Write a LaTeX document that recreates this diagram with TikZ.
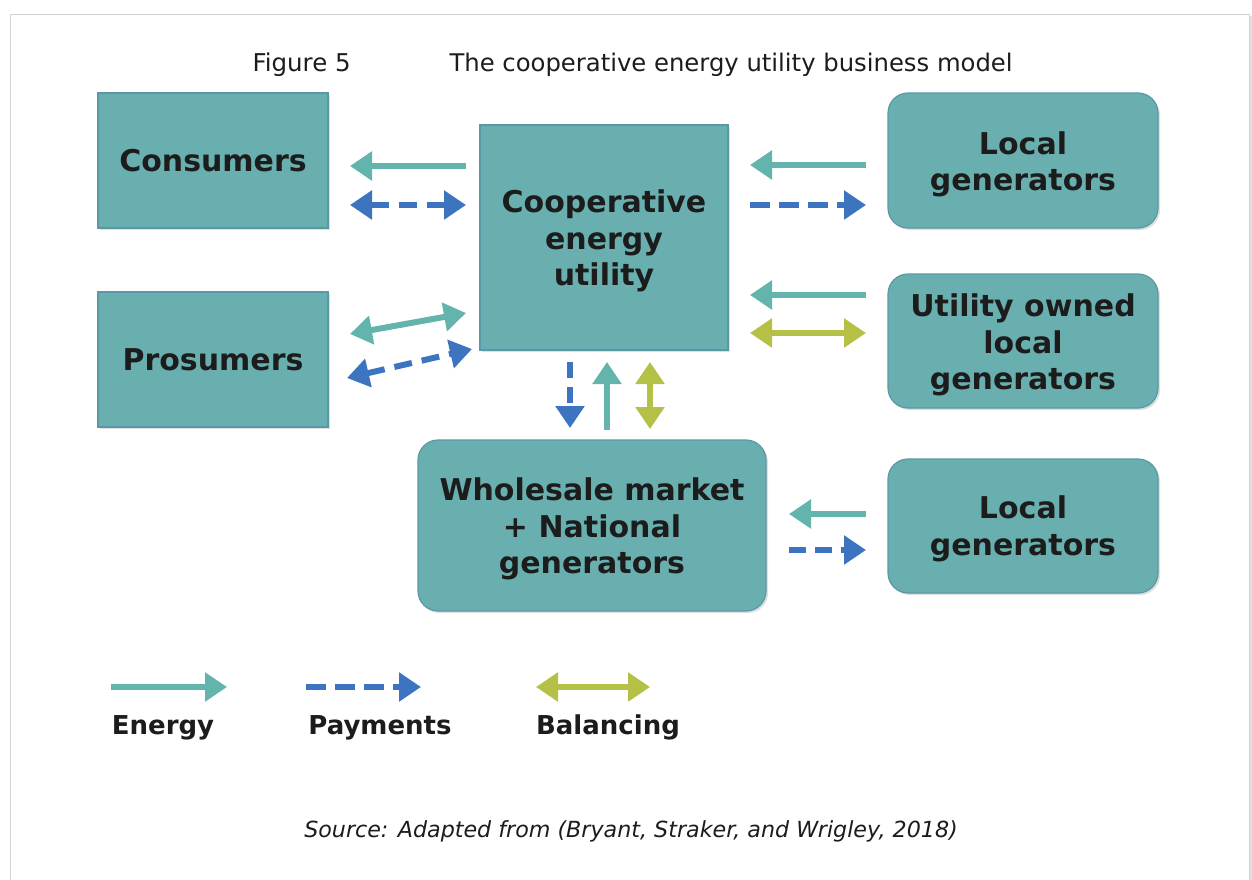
\documentclass[tikz,border=0pt]{standalone}
\usepackage{fontspec}
\setmainfont{DejaVu Sans}
\usetikzlibrary{arrows.meta,shadows}
\definecolor{boxfill}{HTML}{6AAFAF}
\definecolor{boxline}{HTML}{5A98A6}
\definecolor{energy}{HTML}{62B4AC}
\definecolor{pay}{HTML}{3D74C0}
\definecolor{bal}{HTML}{B4C046}
\definecolor{txt}{HTML}{1C1C1C}
\tikzset{
  btext/.style={align=center, text=txt, font=\fontsize{30bp}{36.5bp}\selectfont\bfseries, inner sep=0pt},
  box/.style={draw=boxline, line width=1.2bp, fill=boxfill, btext,
    drop shadow={shadow xshift=2bp, shadow yshift=-2bp, opacity=0.25}},
  rbox/.style={box, rounded corners=20bp},
  arr/.style={line width=6bp, -{Triangle[length=22bp,width=28bp]}},
  darr/.style={line width=6bp, {Triangle[length=22bp,width=28bp]}-{Triangle[length=22bp,width=28bp]}},
  en/.style={arr, draw=energy},
  pa/.style={arr, draw=pay, dash pattern=on 20bp off 9bp},
  pad/.style={darr, draw=pay, dash pattern=on 18bp off 10bp},
  end/.style={darr, draw=energy},
  ba/.style={darr, draw=bal},
  legtxt/.style={font=\fontsize{26bp}{30bp}\selectfont\bfseries, text=txt},
}
\begin{document}
\begin{tikzpicture}[x=1bp,y=-1bp]
\useasboundingbox (0,0) rectangle (1252,880);
% frame
\fill[black!12] (12,16) rectangle (1252,882);
\draw[black!18, fill=white, line width=0.8bp] (10,14) rectangle (1249,884);
% title
\node[anchor=base west, font=\fontsize{24.5bp}{28bp}\selectfont, text=txt] (fig) at (249,71) {Figure 5};
\node[anchor=base west, font=\fontsize{24.3bp}{28bp}\selectfont, text=txt] (title) at (446,71) {The cooperative energy utility business model};
% boxes
\node[box, minimum width=230bp, minimum height=135bp] (cons) at (213,160.5) {Consumers};
\node[box, minimum width=230bp, minimum height=135bp] (pros) at (213,359.5) {Prosumers};
\node[box, minimum width=248bp, minimum height=225bp] (coop) at (604,237.5) {};
\node[btext] (coopt) at ([yshift=-3.5bp]coop.center) {Cooperative\\energy\\utility};
\node[rbox, minimum width=270bp, minimum height=135bp] (lg1) at (1023,160.5) {};
\node[btext] (lg1t) at ([yshift=-4bp]lg1.center) {Local\\generators};
\node[rbox, minimum width=270bp, minimum height=134bp] (uol) at (1023,341) {};
\node[btext] (uolt) at ([yshift=-4bp]uol.center) {Utility owned\\local\\generators};
\node[rbox, minimum width=270bp, minimum height=134bp] (lg2) at (1023,526) {};
\node[btext] (lg2t) at ([yshift=-3bp]lg2.center) {Local\\generators};
\node[rbox, minimum width=348bp, minimum height=171bp] (whm) at (592,525.5) {};
\node[btext] (whmt) at ([yshift=-3.5bp]whm.center) {Wholesale market\\+ National\\generators};
% arrow end coordinates
\coordinate (c1a) at (466,166); \coordinate (c1b) at (350,166);
\coordinate (c2a) at (350,205); \coordinate (c2b) at (466,205);
\coordinate (p1a) at (350,334); \coordinate (p1b) at (466,313);
\coordinate (p2a) at (347,378); \coordinate (p2b) at (472,349);
\coordinate (r1a) at (866,165); \coordinate (r1b) at (750,165);
\coordinate (r2a) at (750,205); \coordinate (r2b) at (866,205);
\coordinate (u1a) at (866,295); \coordinate (u1b) at (750,295);
\coordinate (u2a) at (750,333); \coordinate (u2b) at (866,333);
\coordinate (w1a) at (866,514); \coordinate (w1b) at (789,514);
\coordinate (w2a) at (789,550); \coordinate (w2b) at (866,550);
\coordinate (v1a) at (570,362); \coordinate (v1b) at (570,428);
\coordinate (v2a) at (607,430); \coordinate (v2b) at (607,362);
\coordinate (v3a) at (650,362); \coordinate (v3b) at (650,429);
% arrows
\draw[en] (c1a) -- (c1b);
\draw[pad] (c2a) -- (c2b);
\draw[end] (p1a) -- (p1b);
\draw[pad] (p2a) -- (p2b);
\draw[en] (r1a) -- (r1b);
\draw[pa] (r2a) -- (r2b);
\draw[en] (u1a) -- (u1b);
\draw[ba] (u2a) -- (u2b);
\draw[en] (w1a) -- (w1b);
\draw[pa, dash pattern=on 17bp off 9bp] (w2a) -- (w2b);
\draw[pa, dash pattern=on 16bp off 9bp] (v1a) -- (v1b);
\draw[en] (v2a) -- (v2b);
\draw[ba] (v3a) -- (v3b);
% legend
\coordinate (le1) at (111,687); \coordinate (le2) at (227,687);
\coordinate (lp1) at (306,687); \coordinate (lp2) at (421,687);
\coordinate (lb1) at (536,687); \coordinate (lb2) at (650,687);
\draw[en] (le1) -- (le2);
\draw[pa] (lp1) -- (lp2);
\draw[ba] (lb1) -- (lb2);
\node[legtxt, anchor=base] (lel) at (163,734) {Energy};
\node[legtxt, anchor=base] (lpl) at (380,734) {Payments};
\node[legtxt, anchor=base] (lbl) at (608,734) {Balancing};
% source
\node[anchor=base, font=\fontsize{22.2bp}{26bp}\selectfont\itshape, text=txt] (src) at (631,837) {Source: Adapted from (Bryant, Straker, and Wrigley, 2018)};
\end{tikzpicture}
\end{document}
